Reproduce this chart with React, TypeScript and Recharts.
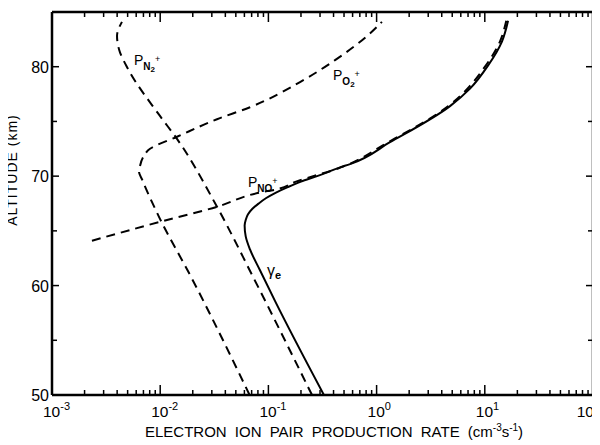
import { LineChart, Line, XAxis, YAxis } from "recharts";

// altitude (km), ascending, and production rate (cm^-3 s^-1)
const gammaAlt = [50, 58.6, 61.4, 63.3, 64.5, 65.5, 66.0, 66.5, 67.0, 67.5, 68.0, 68.5, 69.0, 69.5, 70.0, 70.8, 71.1, 73.1, 76.4, 78.0, 80.1, 82.3, 84.2];
const gammaRate = [0.326, 0.115, 0.0836, 0.0676, 0.0617, 0.0603, 0.0617, 0.0646, 0.0708, 0.0813, 0.0955, 0.1175, 0.151, 0.2, 0.282, 0.459, 0.568, 1.33, 4.77, 7.3, 10.7, 14.4, 16.4];

const noAlt = [64.1, 65.9, 67.2, 68.5, 68.8, 69.5, 70.7, 73.1, 76.4, 80.1, 82.3, 84.2];
const noRate = [0.00234, 0.0106, 0.0335, 0.0836, 0.12, 0.18, 0.44, 1.28, 4.6, 10.2, 13.8, 15.8];

const o2Alt = [50, 61.0, 66.1, 69.7, 70.4, 70.9, 71.7, 72.5, 73.6, 75.2, 76.3, 78.6, 80.6, 82.8, 84.1];
const o2Rate = [0.067, 0.0188, 0.00995, 0.0068, 0.00637, 0.0065, 0.00693, 0.00805, 0.0143, 0.0335, 0.0676, 0.196, 0.413, 0.815, 1.12];

const n2Alt = [50, 60.8, 67.2, 73.4, 75.5, 79.8, 81.6, 82.8, 84.1];
const n2Rate = [0.253, 0.0721, 0.0335, 0.0143, 0.00995, 0.00504, 0.00416, 0.00399, 0.00443];

const majorX = [0.001, 0.01, 0.1, 1, 10, 100];
const minorMult = [2, 3, 4, 5, 6, 7, 8, 9];
const majorY = [50, 60, 70, 80];
const minorY = [55, 65, 75];

const toRows = (alt: number[], rate: number[]) => alt.map((a, i) => ({ alt: a, rate: rate[i] }));

const gamma = toRows(gammaAlt, gammaRate);
const pNO = toRows(noAlt, noRate);
const pO2 = toRows(o2Alt, o2Rate);
const pN2 = toRows(n2Alt, n2Rate);

const xTicks = [...majorX, ...majorX.slice(0, 5).flatMap((d) => minorMult.map((m) => d * m))];
const yTicks = [...majorY, ...minorY];

const FONT = "'Liberation Sans', Arial, Helvetica, sans-serif";

const XTick = (props: any) => {
  const { x, y, payload, top } = props;
  const v = payload.value;
  const major = majorX.includes(v);
  const len = major ? 10 : 5;
  const dir = top ? 1 : -1;
  const exp = Math.round(Math.log10(v));
  const last = v === majorX[majorX.length - 1];
  return (
    <g>
      <line x1={x} x2={x} y1={y} y2={y + dir * len} stroke="#000" strokeWidth={1.5} />
      {major && !top && (
        <text x={last ? 592 : x - 9} y={y + 22} textAnchor={last ? "end" : "start"} fontSize={15.5} fill="#000">
          10<tspan dy={-7} fontSize={11}>{exp}</tspan>
        </text>
      )}
    </g>
  );
};

const YTick = (props: any) => {
  const { x, y, payload, right } = props;
  const v = payload.value;
  const major = majorY.includes(v);
  const len = major ? 7 : 5;
  const dir = right ? -1 : 1;
  return (
    <g>
      <line x1={x} x2={x + dir * len} y1={y} y2={y} stroke="#000" strokeWidth={1.5} />
      {major && !right && (
        <text x={x - 3} y={y + 6} textAnchor="end" fontSize={16} fill="#000">
          {v}
        </text>
      )}
    </g>
  );
};

const lbl: React.CSSProperties = { position: "absolute", fontSize: 14, lineHeight: 1, whiteSpace: "nowrap" };
const sub: React.CSSProperties = { position: "relative", top: 5, fontSize: 10, fontWeight: "bold" };
const sup: React.CSSProperties = { position: "relative", top: -3, fontSize: 9 };
const titleSup: React.CSSProperties = { position: "relative", top: -6, fontSize: 10 };

export default function App() {
  return (
    <div style={{ position: "relative", width: 592, height: 437, fontFamily: FONT, color: "#000" }}>
      <LineChart
        width={592}
        height={437}
        layout="vertical"
        margin={{ top: 0, right: 0, bottom: 0, left: 0 }}
      >
        <XAxis
          xAxisId="b"
          type="number"
          scale="log"
          domain={[0.001, 100]}
          allowDataOverflow
          ticks={xTicks}
          interval={0}
          height={50}
          tickSize={0}
          tickMargin={0}
          tickLine={false}
          axisLine={{ stroke: "#000", strokeWidth: 2.5 }}
          tick={<XTick />}
        />
        <XAxis
          xAxisId="t"
          orientation="top"
          type="number"
          scale="log"
          domain={[0.001, 100]}
          allowDataOverflow
          ticks={xTicks}
          interval={0}
          height={4}
          tickSize={0}
          tickMargin={0}
          tickLine={false}
          axisLine={{ stroke: "#000", strokeWidth: 2.5 }}
          tick={<XTick top />}
        />
        <YAxis
          yAxisId="l"
          type="number"
          dataKey="alt"
          domain={[50, 85]}
          reversed
          allowDataOverflow
          ticks={yTicks}
          interval={0}
          width={44}
          tickSize={0}
          tickMargin={0}
          tickLine={false}
          axisLine={{ stroke: "#000", strokeWidth: 2.5 }}
          tick={<YTick />}
        />
        <YAxis
          yAxisId="r"
          orientation="right"
          type="number"
          dataKey="alt"
          domain={[50, 85]}
          reversed
          allowDataOverflow
          ticks={yTicks}
          interval={0}
          width={7}
          tickSize={0}
          tickMargin={0}
          tickLine={false}
          axisLine={{ stroke: "#000", strokeWidth: 2.5 }}
          tick={<YTick right />}
        />
        <Line xAxisId="b" yAxisId="l" data={pN2} dataKey="rate" type="monotone" stroke="#000" strokeWidth={2} strokeDasharray="9 6" dot={false} isAnimationActive={false} />
        <Line xAxisId="b" yAxisId="l" data={pO2} dataKey="rate" type="monotone" stroke="#000" strokeWidth={2} strokeDasharray="9 6" dot={false} isAnimationActive={false} />
        <Line xAxisId="b" yAxisId="l" data={pNO} dataKey="rate" type="monotone" stroke="#000" strokeWidth={2} strokeDasharray="9 6" dot={false} isAnimationActive={false} />
        <Line xAxisId="b" yAxisId="l" data={gamma} dataKey="rate" type="monotone" stroke="#000" strokeWidth={2} dot={false} isAnimationActive={false} />
      </LineChart>

      <div style={{ ...lbl, left: 126, top: 45 }}>
        P<span style={sub}>N<span style={{ fontSize: 8, position: "relative", top: 2 }}>2</span></span><span style={sup}>+</span>
      </div>
      <div style={{ ...lbl, left: 325, top: 60 }}>
        P<span style={sub}>O<span style={{ fontSize: 8, position: "relative", top: 2 }}>2</span></span><span style={sup}>+</span>
      </div>
      <div style={{ ...lbl, left: 240, top: 167 }}>
        P<span style={sub}>NO</span><span style={sup}>+</span>
      </div>
      <div style={{ ...lbl, left: 259, top: 255, fontSize: 16 }}>
        γ<span style={{ ...sub, top: 3, fontSize: 11 }}>e</span>
      </div>

      <div
        style={{
          position: "absolute",
          left: -8,
          top: 162,
          width: 0,
          height: 0,
          transform: "rotate(-90deg)",
        }}
      >
        <div style={{ position: "absolute", left: -70, top: 4, width: 140, textAlign: "center", fontSize: 14, letterSpacing: 1, whiteSpace: "nowrap" }}>
          ALTITUDE (km)
        </div>
      </div>
      <div style={{ position: "absolute", left: 137, top: 416, fontSize: 15, lineHeight: "15px", wordSpacing: 4, whiteSpace: "nowrap" }}>
        ELECTRON ION PAIR PRODUCTION RATE (cm<span style={titleSup}>-3</span>s<span style={titleSup}>-1</span>)
      </div>
    </div>
  );
}
